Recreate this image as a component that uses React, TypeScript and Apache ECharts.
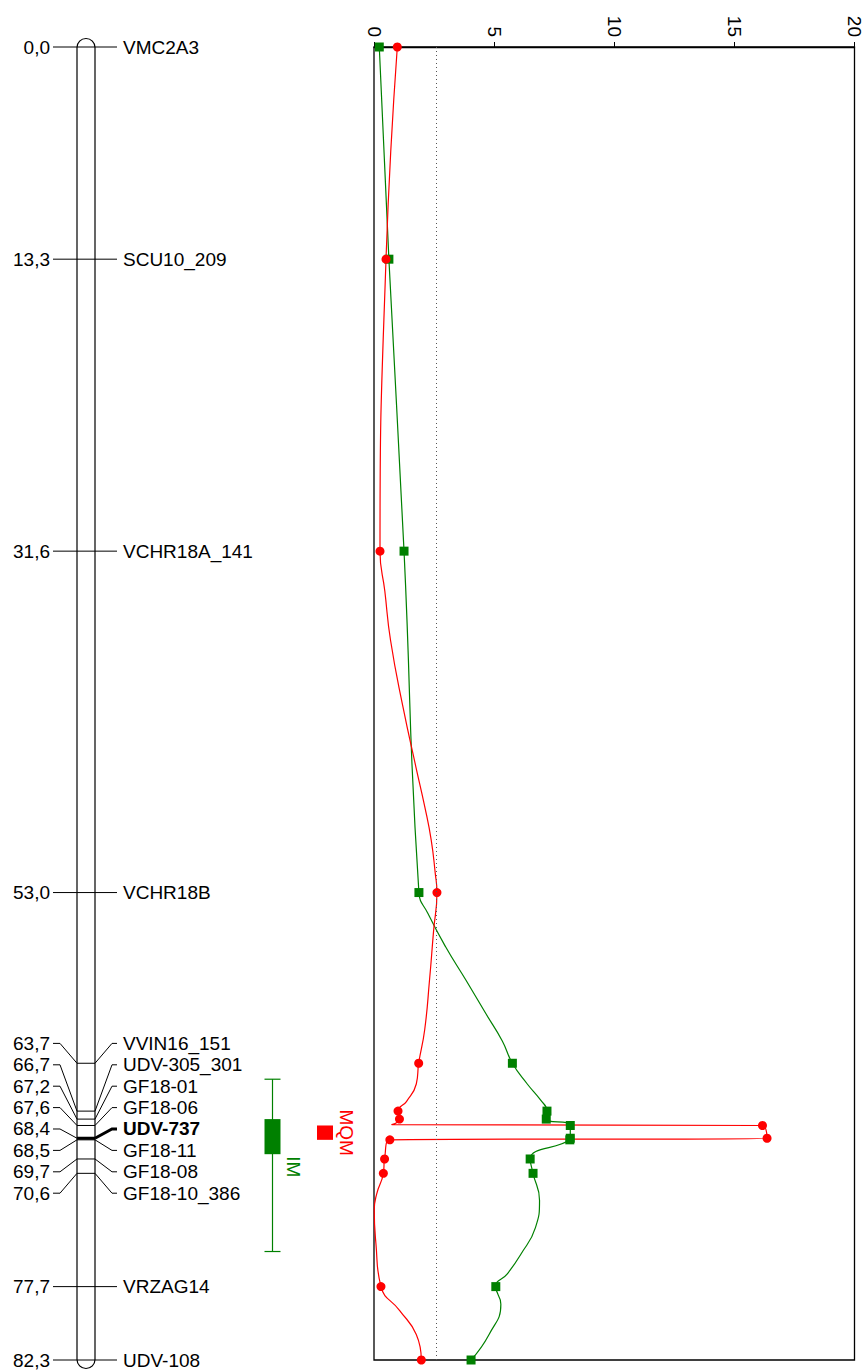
import React, { useEffect, useRef } from "react";
import * as echarts from "echarts";

// Linkage group: marker names and map positions (cM)
const markerNames = [
  "VMC2A3", "SCU10_209", "VCHR18A_141", "VCHR18B", "VVIN16_151", "UDV-305_301", "GF18-01",
  "GF18-06", "UDV-737", "GF18-11", "GF18-08", "GF18-10_386", "VRZAG14", "UDV-108",
];
const markerPos = [0.0, 13.3, 31.6, 53.0, 63.7, 66.7, 67.2, 67.6, 68.4, 68.5, 69.7, 70.6, 77.7, 82.3];
const boldMarker = "UDV-737";
const mapLength = 82.3;

// LOD at each marker
const mqmMarkerLod = [0.97, 0.5, 0.25, 2.62, 1.86, 1.0, 1.06, 16.17, 16.36, 0.66, 0.44, 0.39, 0.29, 1.97];
const imMarkerLod = [0.22, 0.62, 1.25, 1.87, 5.76, 7.2, 7.17, 8.17, 8.17, 8.15, 6.5, 6.62, 5.07, 4.04];

// LOD at scan positions between markers
const mqmScanPos = [34.1, 37.2, 41.4, 45.1, 47.6, 49.7, 51.8, 55.4, 58.5, 61.6, 65.0, 66.1, 67.55, 71.9, 72.9, 75.0, 79.2, 80.7];
const mqmScanLod = [0.45, 0.69, 1.21, 1.74, 2.11, 2.38, 2.55, 2.48, 2.31, 2.11, 1.76, 1.35, 0.74, 0.11, 0.01, 0.08, 1.07, 1.76];
const imScanPos = [54.3, 56.4, 58.5, 60.6, 62.3, 65.0, 66.0, 72.3, 74.0, 75.7, 76.9, 78.8, 80.7];
const imScanLod = [2.24, 2.98, 3.83, 4.66, 5.34, 6.38, 6.93, 6.89, 6.72, 6.1, 5.55, 5.28, 4.79];

// LOD axis ticks and significance threshold
const lodTicks = [0, 5, 10, 15, 20];
const lodThreshold = 2.6;

// QTL support intervals (cM)
const imInterval2 = [64.7, 75.5];
const imInterval1 = [67.2, 69.4];
const mqmInterval1 = [67.6, 68.5];

const FONT = "'Liberation Sans', Arial, Helvetica, sans-serif";
const FONT_SIZE = 19;
const RED = "#ff0000";
const GREEN = "#008000";
const LABEL_GAP = 21.4;

function formatPos(p: number): string {
  return p.toFixed(1).replace(".", ",");
}

function buildProfile(markerLod: number[], scanPos: number[], scanLod: number[], symbol: string) {
  const pts = markerPos
    .map((p, i) => ({ value: [markerLod[i], p], symbol }))
    .concat(scanPos.map((p, i) => ({ value: [scanLod[i], p], symbol: "none" })));
  pts.sort((a, b) => a.value[1] - b.value[1]);
  return pts;
}

// Spread overlapping labels; each cluster is centred between its first and last anchor.
function spreadLabels(anchors: number[], gap: number): number[] {
  const clusters = anchors.map((y, i) => ({ first: i, last: i, start: y }));
  let merged = true;
  while (merged) {
    merged = false;
    for (let k = 0; k < clusters.length - 1; k++) {
      const a = clusters[k];
      const b = clusters[k + 1];
      const aEnd = a.start + (a.last - a.first) * gap;
      if (b.start - aEnd < gap) {
        const first = a.first;
        const last = b.last;
        const mid = (anchors[first] + anchors[last]) / 2;
        clusters.splice(k, 2, { first, last, start: mid - ((last - first) * gap) / 2 });
        merged = true;
        break;
      }
    }
  }
  const out: number[] = new Array(anchors.length);
  clusters.forEach((c) => {
    for (let i = c.first; i <= c.last; i++) out[i] = c.start + (i - c.first) * gap;
  });
  return out;
}

function textEl(text: string, x: number, y: number, align: string, fill = "#000", bold = false) {
  return {
    type: "text",
    style: {
      text,
      x,
      y,
      fill,
      fontSize: FONT_SIZE,
      fontFamily: FONT,
      fontWeight: bold ? "bold" : "normal",
      align,
      verticalAlign: "middle",
    },
  };
}

export default function App() {
  const ref = useRef<HTMLDivElement>(null);

  useEffect(() => {
    if (!ref.current) return;
    const chart = echarts.init(ref.current, null, { renderer: "svg" });

    const chromosomeSeries = {
      type: "custom",
      xAxisIndex: 1,
      yAxisIndex: 1,
      silent: true,
      clip: false,
      data: [[0, 0]],
      renderItem: (params: any, api: any) => {
        const cs = params.coordSys;
        const top = api.coord([0, 0])[1];
        const bottom = api.coord([0, mapLength])[1];
        return {
          type: "rect",
          shape: { x: cs.x, y: top - 8.5, width: cs.width, height: bottom - top + 17, r: 9 },
          style: { fill: "#fff", stroke: "#000", lineWidth: 1.2 },
        };
      },
    };

    const markerSeries = {
      type: "custom",
      xAxisIndex: 1,
      yAxisIndex: 1,
      silent: true,
      clip: false,
      data: markerPos.map((p) => [0, p]),
      renderItem: (params: any, api: any) => {
        const i = params.dataIndex;
        const cs = params.coordSys;
        const L = cs.x;
        const R = cs.x + cs.width;
        const anchors = markerPos.map((p) => api.coord([0, p])[1]);
        const labels = spreadLabels(anchors, LABEL_GAP);
        const ry = anchors[i];
        const ly = labels[i];
        const bold = markerNames[i] === boldMarker;
        const thin = { stroke: "#000", lineWidth: 1, fill: null };
        const strong = { stroke: "#000", lineWidth: bold ? 3 : 1, fill: null };
        return {
          type: "group",
          children: [
            { type: "polyline", shape: { points: [[L - 24, ly], [L - 17, ly], [L, ry]] }, style: thin },
            { type: "line", shape: { x1: L, y1: ry, x2: R, y2: ry }, style: strong },
            { type: "polyline", shape: { points: [[R, ry], [R + 17, ly], [R + 22, ly]] }, style: strong },
            textEl(formatPos(markerPos[i]), L - 27, ly, "right"),
            textEl(markerNames[i], R + 28, ly, "left", "#000", bold),
          ],
        };
      },
    };

    const qtlSeries = {
      type: "custom",
      xAxisIndex: 1,
      yAxisIndex: 1,
      silent: true,
      clip: false,
      data: [[0, 0]],
      renderItem: (params: any, api: any) => {
        const cs = params.coordSys;
        const R = cs.x + cs.width;
        const y = (v: number) => api.coord([0, v])[1];
        const cIm = R + 177.5;
        const cMqm = R + 230;
        const lineStyle = { stroke: GREEN, lineWidth: 1.2 };
        return {
          type: "group",
          children: [
            { type: "line", shape: { x1: cIm, y1: y(imInterval2[0]), x2: cIm, y2: y(imInterval2[1]) }, style: lineStyle },
            { type: "line", shape: { x1: cIm - 8, y1: y(imInterval2[0]), x2: cIm + 8, y2: y(imInterval2[0]) }, style: lineStyle },
            { type: "line", shape: { x1: cIm - 8, y1: y(imInterval2[1]), x2: cIm + 8, y2: y(imInterval2[1]) }, style: lineStyle },
            {
              type: "rect",
              shape: { x: cIm - 8, y: y(imInterval1[0]), width: 16, height: y(imInterval1[1]) - y(imInterval1[0]) },
              style: { fill: GREEN },
            },
            {
              type: "text",
              x: cIm + 21,
              y: y(imInterval1[1]) + 2,
              rotation: -Math.PI / 2,
              style: { text: "IM", x: 0, y: 0, fill: GREEN, fontSize: FONT_SIZE, fontFamily: FONT, align: "left", verticalAlign: "middle" },
            },
            {
              type: "rect",
              shape: { x: cMqm - 8, y: y(mqmInterval1[0]), width: 16, height: y(mqmInterval1[1]) - y(mqmInterval1[0]) },
              style: { fill: RED },
            },
            {
              type: "text",
              x: cMqm + 21,
              y: (y(mqmInterval1[0]) + y(mqmInterval1[1])) / 2,
              rotation: -Math.PI / 2,
              style: { text: "MQM", x: 0, y: 0, fill: RED, fontSize: FONT_SIZE, fontFamily: FONT, align: "center", verticalAlign: "middle" },
            },
          ],
        };
      },
    };

    chart.setOption({
      animation: false,
      backgroundColor: "#fff",
      grid: [
        { left: 374, right: 6, top: 47, bottom: 12, show: true, borderColor: "#000", borderWidth: 1.3, backgroundColor: "transparent" },
        { left: 77, width: 18, top: 47, bottom: 12, show: false },
      ],
      xAxis: [
        {
          type: "value",
          gridIndex: 0,
          position: "top",
          min: lodTicks[0],
          max: lodTicks[lodTicks.length - 1],
          interval: lodTicks[1] - lodTicks[0],
          axisLine: { show: true, lineStyle: { color: "#000", width: 1.3 } },
          axisTick: { show: true, length: 5, inside: false, lineStyle: { color: "#000" } },
          axisLabel: { rotate: -90, margin: 10, color: "#000", fontSize: FONT_SIZE, fontFamily: FONT },
          splitLine: { show: false },
        },
        { type: "value", gridIndex: 1, min: 0, max: 1, show: false },
      ],
      yAxis: [
        { type: "value", gridIndex: 0, inverse: true, min: 0, max: mapLength, show: false },
        { type: "value", gridIndex: 1, inverse: true, min: 0, max: mapLength, show: false },
      ],
      series: [
        chromosomeSeries,
        markerSeries,
        qtlSeries,
        {
          name: "IM",
          type: "line",
          xAxisIndex: 0,
          yAxisIndex: 0,
          smooth: true,
          symbolSize: 9,
          color: GREEN,
          lineStyle: { color: GREEN, width: 1.2 },
          itemStyle: { color: GREEN },
          data: buildProfile(imMarkerLod, imScanPos, imScanLod, "rect"),
          markLine: {
            silent: true,
            symbol: "none",
            label: { show: false },
            lineStyle: { color: "#555", width: 1, type: [1, 3] },
            data: [{ xAxis: lodThreshold }],
          },
        },
        {
          name: "MQM",
          type: "line",
          xAxisIndex: 0,
          yAxisIndex: 0,
          smooth: true,
          symbolSize: 9,
          color: RED,
          lineStyle: { color: RED, width: 1.2 },
          itemStyle: { color: RED },
          data: buildProfile(mqmMarkerLod, mqmScanPos, mqmScanLod, "circle"),
        },
      ],
    });

    return () => chart.dispose();
  }, []);

  return (
    <div
      ref={ref}
      style={{ position: "absolute", left: 0, top: 0, width: 864, height: 1372, background: "#fff" }}
    />
  );
}
